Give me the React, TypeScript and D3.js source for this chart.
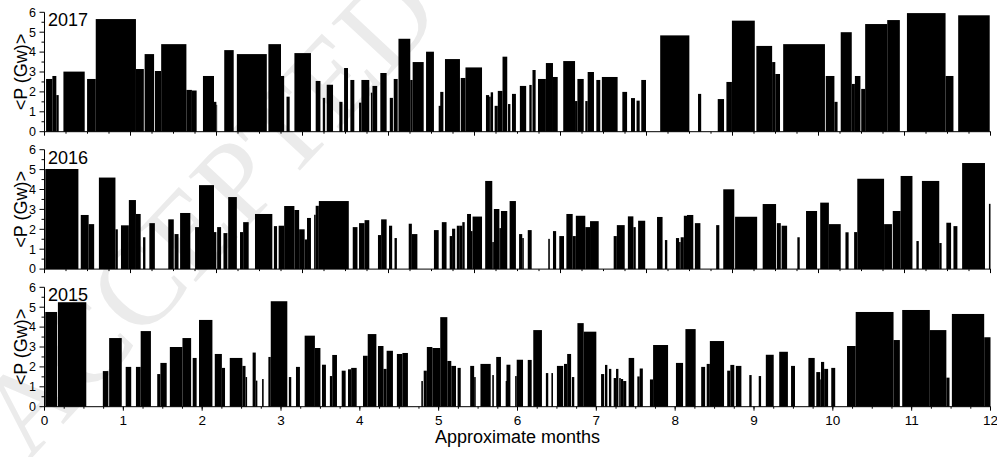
import React from "react";
import * as d3 from "d3";

// each bar: [start month, end month, <P> in Gw]
const bars2017: [number, number, number][] = [
  [0.02, 0.1, 2.65], [0.1, 0.15, 2.8], [0.15, 0.18, 1.84], [0.24, 0.51, 3.02], [0.54, 0.65, 2.65],
  [0.65, 1.16, 5.66], [1.16, 1.26, 3.15], [1.27, 1.39, 3.9], [1.4, 1.48, 3.05], [1.48, 1.8, 4.4],
  [1.8, 1.87, 2.1], [1.87, 1.93, 2.07], [2.01, 2.15, 2.8], [2.15, 2.18, 1.5], [2.18, 2.19, 1.35],
  [2.28, 2.4, 4.1], [2.44, 2.82, 3.9], [2.84, 3.0, 4.4], [3.0, 3.04, 2.8], [3.07, 3.11, 1.76],
  [3.17, 3.38, 3.95], [3.44, 3.5, 2.55], [3.53, 3.56, 1.7], [3.58, 3.66, 2.36], [3.74, 3.78, 1.5],
  [3.8, 3.85, 3.2], [3.88, 3.93, 2.6], [3.99, 4.02, 1.46], [4.02, 4.12, 2.6], [4.14, 4.16, 1.96],
  [4.16, 4.22, 2.3], [4.26, 4.34, 2.95], [4.38, 4.42, 1.7], [4.43, 4.48, 2.65], [4.49, 4.64, 4.67],
  [4.64, 4.67, 2.6], [4.67, 4.81, 3.5], [4.84, 4.94, 4.02], [5.0, 5.03, 1.3], [5.02, 5.06, 2.0],
  [5.08, 5.27, 3.65], [5.28, 5.34, 2.7], [5.34, 5.55, 3.23], [5.6, 5.64, 1.84], [5.64, 5.66, 1.76],
  [5.66, 5.69, 1.98], [5.71, 5.75, 1.3], [5.75, 5.81, 2.05], [5.81, 5.87, 3.77], [5.88, 5.91, 1.39],
  [5.93, 5.98, 1.9], [6.03, 6.11, 2.3], [6.15, 6.18, 2.35], [6.19, 6.23, 3.1], [6.26, 6.36, 2.65],
  [6.36, 6.45, 3.45], [6.45, 6.51, 2.75], [6.58, 6.73, 3.55], [6.73, 6.76, 1.54], [6.76, 6.84, 2.65],
  [6.86, 6.89, 1.54], [6.89, 6.97, 3.0], [7.0, 7.05, 2.6], [7.07, 7.27, 2.75], [7.33, 7.39, 2.0],
  [7.44, 7.49, 1.69], [7.51, 7.55, 1.56], [7.57, 7.63, 2.6], [7.81, 8.18, 4.84], [8.29, 8.33, 1.9],
  [8.54, 8.62, 1.64], [8.65, 8.72, 2.5], [8.72, 9.01, 5.58], [9.03, 9.23, 4.31], [9.23, 9.27, 3.5],
  [9.27, 9.33, 2.9], [9.37, 9.9, 4.4], [9.91, 10.02, 2.8], [10.02, 10.06, 1.5], [10.1, 10.24, 5.0],
  [10.24, 10.28, 2.4], [10.28, 10.35, 2.8], [10.36, 10.41, 2.15], [10.41, 10.69, 5.41], [10.69, 10.85, 5.61],
  [10.94, 11.43, 5.96], [11.43, 11.53, 2.8], [11.59, 11.99, 5.85],
];

const bars2016: [number, number, number][] = [
  [0.01, 0.43, 5.03], [0.46, 0.56, 2.72], [0.56, 0.63, 2.26], [0.69, 0.9, 4.6], [0.9, 0.93, 2.0],
  [0.97, 1.07, 2.2], [1.07, 1.16, 3.47], [1.16, 1.22, 2.77], [1.25, 1.28, 1.6], [1.33, 1.4, 2.31],
  [1.57, 1.64, 2.5], [1.65, 1.7, 1.76], [1.72, 1.85, 2.82], [1.91, 1.96, 2.11], [1.96, 2.15, 4.22],
  [2.15, 2.18, 1.86], [2.19, 2.24, 2.11], [2.27, 2.32, 1.81], [2.33, 2.44, 3.62], [2.48, 2.52, 1.86],
  [2.52, 2.59, 2.36], [2.67, 2.89, 2.77], [2.91, 2.95, 2.16], [2.97, 3.04, 2.18], [3.04, 3.17, 3.17],
  [3.17, 3.23, 2.97], [3.23, 3.3, 2.0], [3.3, 3.33, 1.49], [3.33, 3.38, 2.57], [3.42, 3.44, 2.73],
  [3.44, 3.48, 3.18], [3.48, 3.86, 3.42], [3.91, 3.97, 2.11], [3.99, 4.06, 2.31], [4.06, 4.12, 2.46],
  [4.23, 4.27, 1.71], [4.27, 4.34, 2.5], [4.37, 4.41, 2.18], [4.44, 4.47, 1.56], [4.62, 4.66, 2.28],
  [4.66, 4.73, 1.76], [4.94, 5.0, 1.96], [5.04, 5.1, 2.36], [5.14, 5.17, 1.66], [5.17, 5.21, 2.03],
  [5.23, 5.26, 2.18], [5.26, 5.3, 2.18], [5.3, 5.33, 2.36], [5.36, 5.41, 2.77], [5.41, 5.43, 1.91],
  [5.43, 5.55, 2.64], [5.59, 5.68, 4.43], [5.68, 5.7, 1.36], [5.7, 5.77, 3.02], [5.77, 5.79, 2.06],
  [5.79, 5.87, 2.92], [5.9, 5.98, 3.42], [6.02, 6.06, 1.76], [6.06, 6.08, 1.56], [6.13, 6.18, 1.96],
  [6.39, 6.41, 1.52], [6.45, 6.49, 1.91], [6.53, 6.59, 1.66], [6.62, 6.7, 2.77], [6.7, 6.74, 1.66],
  [6.74, 6.86, 2.68], [6.86, 6.92, 2.11], [6.92, 7.03, 2.41], [7.22, 7.26, 1.66], [7.26, 7.36, 2.21],
  [7.4, 7.47, 2.65], [7.47, 7.5, 2.11], [7.53, 7.62, 2.43], [7.77, 7.84, 2.62], [7.87, 7.9, 1.46],
  [8.01, 8.05, 1.56], [8.05, 8.07, 1.36], [8.07, 8.11, 1.6], [8.11, 8.15, 2.68], [8.15, 8.23, 2.72],
  [8.25, 8.32, 2.31], [8.52, 8.56, 2.21], [8.61, 8.75, 4.01], [8.76, 9.04, 2.63], [9.11, 9.28, 3.27],
  [9.29, 9.34, 2.31], [9.35, 9.42, 2.18], [9.55, 9.58, 1.6], [9.66, 9.8, 2.92], [9.84, 9.95, 3.34],
  [9.95, 10.1, 2.26], [10.16, 10.2, 1.85], [10.27, 10.31, 1.86], [10.31, 10.65, 4.54], [10.65, 10.75, 2.26],
  [10.76, 10.86, 2.92], [10.86, 11.01, 4.68], [11.06, 11.09, 1.41], [11.13, 11.35, 4.43], [11.35, 11.38, 1.31],
  [11.44, 11.5, 2.33], [11.53, 11.58, 2.16], [11.64, 11.93, 5.33], [11.98, 12.0, 3.28],
];

const bars2015: [number, number, number][] = [
  [0.01, 0.16, 4.76], [0.17, 0.53, 5.25], [0.74, 0.81, 1.79], [0.82, 0.98, 3.45], [1.03, 1.1, 2.0],
  [1.16, 1.22, 2.0], [1.22, 1.35, 3.8], [1.43, 1.47, 1.64], [1.47, 1.55, 2.2], [1.59, 1.75, 3.0],
  [1.75, 1.86, 3.45], [1.88, 1.93, 2.45], [1.96, 2.13, 4.36], [2.16, 2.25, 2.65], [2.25, 2.29, 1.95],
  [2.35, 2.51, 2.45], [2.51, 2.55, 2.05], [2.55, 2.57, 1.49], [2.64, 2.68, 2.72], [2.68, 2.7, 1.31],
  [2.76, 2.78, 1.39], [2.84, 2.87, 2.5], [2.87, 3.08, 5.3], [3.1, 3.13, 1.49], [3.19, 3.24, 2.0],
  [3.3, 3.43, 3.57], [3.43, 3.5, 2.95], [3.52, 3.57, 2.11], [3.62, 3.65, 1.54], [3.65, 3.71, 2.6],
  [3.77, 3.82, 1.81], [3.85, 3.89, 1.88], [3.89, 3.96, 1.95], [4.04, 4.1, 2.56], [4.1, 4.21, 3.65],
  [4.23, 4.3, 3.05], [4.3, 4.34, 1.9], [4.34, 4.42, 2.81], [4.47, 4.54, 2.65], [4.54, 4.61, 2.7],
  [4.78, 4.8, 1.29], [4.81, 4.85, 1.81], [4.85, 4.92, 3.0], [4.92, 5.02, 2.95], [5.02, 5.11, 4.5],
  [5.11, 5.16, 2.3], [5.16, 5.22, 2.05], [5.24, 5.28, 1.95], [5.4, 5.45, 2.05], [5.45, 5.47, 1.49],
  [5.53, 5.66, 2.15], [5.68, 5.7, 1.59], [5.73, 5.79, 2.5], [5.85, 5.88, 1.29], [5.86, 5.91, 2.11],
  [5.97, 5.99, 1.54], [5.99, 6.07, 2.36], [6.13, 6.18, 2.35], [6.2, 6.31, 3.85], [6.36, 6.39, 1.69],
  [6.43, 6.45, 1.69], [6.5, 6.58, 2.05], [6.59, 6.63, 2.15], [6.63, 6.68, 2.65], [6.69, 6.72, 1.49],
  [6.76, 6.84, 4.2], [6.84, 7.0, 3.77], [7.06, 7.1, 1.64], [7.11, 7.14, 2.1], [7.16, 7.19, 1.9],
  [7.22, 7.25, 1.44], [7.25, 7.28, 1.9], [7.29, 7.31, 1.44], [7.31, 7.34, 1.39], [7.34, 7.38, 1.29],
  [7.41, 7.48, 2.45], [7.52, 7.55, 1.52], [7.55, 7.59, 1.92], [7.68, 7.72, 1.37], [7.72, 7.91, 3.1],
  [8.01, 8.1, 2.2], [8.13, 8.26, 3.9], [8.33, 8.38, 2.0], [8.4, 8.44, 2.15], [8.44, 8.62, 3.3],
  [8.66, 8.7, 1.81], [8.7, 8.75, 2.1], [8.77, 8.84, 2.05], [8.94, 8.97, 1.59], [9.06, 9.09, 1.54],
  [9.15, 9.25, 2.61], [9.32, 9.43, 2.76], [9.47, 9.52, 2.05], [9.69, 9.77, 2.45], [9.79, 9.84, 1.74],
  [9.84, 9.86, 1.37], [9.85, 9.89, 2.25], [9.89, 9.94, 1.9], [9.98, 10.03, 1.95], [10.18, 10.29, 3.05],
  [10.29, 10.77, 4.76], [10.77, 10.85, 3.35], [10.88, 11.23, 4.86], [11.23, 11.44, 3.85], [11.44, 11.48, 1.46],
  [11.51, 11.92, 4.66], [11.92, 12.0, 3.49],
];

const years = ["2017", "2016", "2015"];
const yTicks = [0, 1, 2, 3, 4, 5, 6];
const monthTicks = d3.range(0, 13);

const W = 997;
const H = 457;
const left = 44.5;
const right = 990.5;
const panelTops = [12.3, 149.7, 287.3];
const panelH = 119.4;
const font = "'Liberation Sans', Arial, sans-serif";

const App = () => {
  const x = d3.scaleLinear().domain([0, 12]).range([left, right]);
  // upper panels carry an hour axis (0..8800 h) without labels
  const xh = d3.scaleLinear().domain([0, 8800]).range([left, right]);
  const allBars = [bars2017, bars2016, bars2015];

  return (
    <svg width={W} height={H} style={{ position: "absolute", left: 0, top: 0 }} fontFamily={font}>
      <rect width={W} height={H} fill="#fff" />
      <text
        transform="translate(28,462) rotate(-47)"
        fontFamily="'Liberation Serif', 'DejaVu Serif', serif"
        fontSize={118}
        fill="#ebebeb"
      >
        ACCEPTED MANUSCRIPT
      </text>
      {allBars.map((bars, p) => {
        const top = panelTops[p];
        const bottom = top + panelH;
        const y = d3.scaleLinear().domain([0, 6]).range([bottom, top]);
        const last = p === 2;
        const majors = last ? monthTicks.map((m) => x(m)) : d3.range(0, 8801, 800).map((h) => xh(h));
        const minors = last
          ? d3.range(0, 12.01, 0.25).map((m) => x(m))
          : d3.range(0, 8801, 200).map((h) => xh(h));
        return (
          <g key={p}>
            {bars.map(([a, b, v], i) => (
              <rect key={i} x={x(a)} y={y(v)} width={Math.max(0.8, x(b) - x(a))} height={y(0) - y(v)} fill="#000" />
            ))}
            <line x1={left} x2={left} y1={top} y2={bottom} stroke="#000" />
            <line x1={left} x2={right} y1={bottom} y2={bottom} stroke="#000" />
            {d3.range(0, 6.01, 0.5).map((t) => (
              <line key={t} x1={left} x2={left - (t % 1 === 0 ? 5 : 3)} y1={y(t)} y2={y(t)} stroke="#000" />
            ))}
            {yTicks.map((t) => (
              <text key={t} x={36} y={y(t)} dy="0.35em" textAnchor="end" fontSize={12.5}>
                {t}
              </text>
            ))}
            {minors.map((px, i) => (
              <line key={"m" + i} x1={px} x2={px} y1={bottom} y2={bottom + 2} stroke="#000" />
            ))}
            {majors.map((px, i) => (
              <line key={"M" + i} x1={px} x2={px} y1={bottom} y2={bottom + 4} stroke="#000" />
            ))}
            <text x={48} y={top + 14} fontSize={18}>
              {years[p]}
            </text>
            <text
              transform={`translate(27,${(top + bottom) / 2}) rotate(-90)`}
              textAnchor="middle"
              fontSize={18}
            >
              {"<P (Gw)>"}
            </text>
            {last &&
              monthTicks.map((m) => (
                <text key={m} x={x(m)} y={bottom + 18} textAnchor="middle" fontSize={13.5}>
                  {m}
                </text>
              ))}
          </g>
        );
      })}
      <text x={(left + right) / 2} y={443} textAnchor="middle" fontSize={18}>
        Approximate months
      </text>
    </svg>
  );
};

export default App;
